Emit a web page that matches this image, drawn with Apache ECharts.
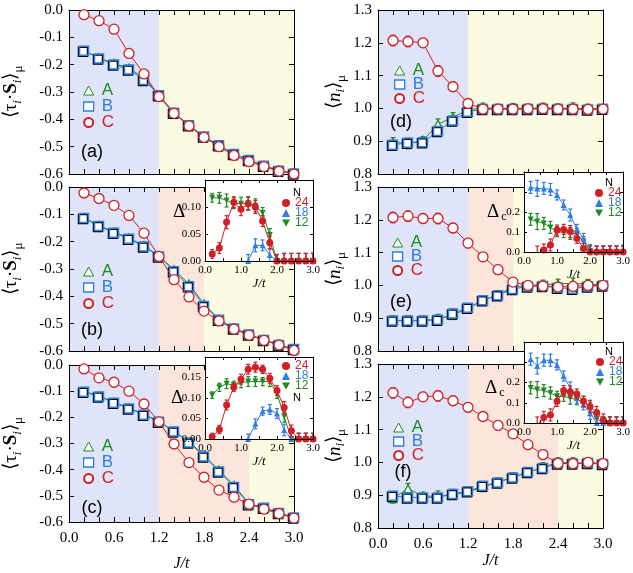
<!DOCTYPE html>
<html>
<head>
<meta charset="utf-8">
<script src="https://cdn.jsdelivr.net/npm/echarts@6/dist/echarts.min.js"></script>
<style>
  html, body { margin: 0; background: #fff; }
  #chart { width: 633px; height: 573px; }
</style>
</head>
<body>
<div id="chart"></div>
<script>
// J/t values shared by every panel and inset
var xs = [0.2, 0.4, 0.6, 0.8, 1.0, 1.2, 1.4, 1.6, 1.8, 2.0, 2.2, 2.4, 2.6, 2.8, 3.0];

// (a) <tau.S>
var aA = [-0.148, -0.175, -0.196, -0.213, -0.249, -0.311, -0.376, -0.421, -0.462, -0.495, -0.526, -0.548, -0.569, -0.587, -0.597];
var aB = [-0.149, -0.177, -0.199, -0.218, -0.256, -0.312, -0.376, -0.422, -0.463, -0.495, -0.527, -0.549, -0.570, -0.588, -0.598];
var aC = [-0.017, -0.039, -0.070, -0.159, -0.234, -0.317, -0.378, -0.424, -0.466, -0.500, -0.532, -0.555, -0.573, -0.590, -0.600];
// (b)
var bA = [-0.112, -0.141, -0.165, -0.186, -0.215, -0.252, -0.303, -0.355, -0.428, -0.484, -0.517, -0.539, -0.559, -0.577, -0.592];
var bB = [-0.113, -0.143, -0.167, -0.189, -0.218, -0.254, -0.308, -0.363, -0.435, -0.486, -0.518, -0.540, -0.560, -0.578, -0.593];
var bC = [-0.022, -0.042, -0.067, -0.104, -0.169, -0.254, -0.339, -0.402, -0.454, -0.490, -0.520, -0.542, -0.561, -0.578, -0.598];
// (c)
var cA = [-0.101, -0.118, -0.142, -0.164, -0.188, -0.216, -0.252, -0.294, -0.345, -0.402, -0.460, -0.530, -0.545, -0.565, -0.582];
var cB = [-0.102, -0.120, -0.144, -0.166, -0.190, -0.217, -0.254, -0.296, -0.350, -0.407, -0.466, -0.532, -0.546, -0.566, -0.583];
var cC = [-0.015, -0.049, -0.066, -0.100, -0.149, -0.217, -0.302, -0.373, -0.429, -0.478, -0.505, -0.532, -0.551, -0.568, -0.585];

// (d) <n>
var dA = [0.897, 0.893, 0.902, 0.952, 0.973, 0.995, 1.002, 1.000, 1.001, 1.000, 1.002, 1.000, 1.001, 0.999, 1.000];
var dB = [0.889, 0.895, 0.897, 0.931, 0.963, 0.990, 0.998, 0.998, 0.998, 0.998, 0.999, 0.998, 0.998, 0.997, 0.999];
var dC = [1.207, 1.204, 1.200, 1.114, 1.066, 1.015, 0.998, 0.998, 0.998, 0.999, 0.999, 0.998, 0.998, 0.997, 0.998];
// (e)
var eA = [0.893, 0.891, 0.894, 0.896, 0.910, 0.930, 0.954, 0.972, 0.995, 1.000, 1.002, 1.005, 1.006, 1.004, 1.002];
var eB = [0.893, 0.893, 0.893, 0.895, 0.914, 0.932, 0.955, 0.970, 0.989, 0.997, 0.998, 0.993, 0.990, 0.997, 1.000];
var eC = [1.207, 1.211, 1.204, 1.204, 1.175, 1.129, 1.087, 1.048, 1.010, 1.000, 0.998, 0.995, 0.997, 1.000, 1.000];
// (f)
var fA = [0.890, 0.920, 0.897, 0.897, 0.902, 0.910, 0.925, 0.940, 0.955, 0.970, 0.985, 1.000, 0.998, 0.995, 0.998];
var fB = [0.898, 0.893, 0.893, 0.893, 0.904, 0.912, 0.929, 0.939, 0.954, 0.971, 0.983, 0.997, 0.997, 0.998, 0.995];
var fC = [1.212, 1.183, 1.200, 1.203, 1.188, 1.168, 1.140, 1.113, 1.087, 1.054, 1.024, 0.997, 0.996, 1.000, 0.996];
// error bars of <n>
var nErrA = [0.014, 0.016, 0.012, 0.016, 0.014, 0.012, 0.014, 0.012, 0.014, 0.012, 0.014, 0.014, 0.016, 0.014, 0.012];
var nErrB = [0.012, 0.014, 0.012, 0.012, 0.014, 0.012, 0.012, 0.014, 0.012, 0.012, 0.012, 0.014, 0.012, 0.012, 0.012];
var nErrC = [0.016, 0.016, 0.014, 0.016, 0.014, 0.014, 0.012, 0.014, 0.012, 0.012, 0.014, 0.012, 0.014, 0.014, 0.012];

// phase boundaries (J/t) of the shaded bands
var bandsA = [0, 1.2, 3.0];
var bandsB = [0, 1.2, 1.8, 3.0];
var bandsC = [0, 1.2, 2.4, 3.0];

// insets: gap vs J/t for N = 24, 18, 12
var ib24 = [0.013, 0.024, 0.072, 0.109, 0.096, 0.106, 0.100, 0.074, 0.034, 0, 0, 0, 0, 0, 0];
var ib18 = [null, null, null, null, null, 0, 0.029, 0.029, 0.011, 0, 0, 0, 0, 0, 0];
var ib12 = [0.117, 0.117, 0.112, 0.107, 0.106, 0.107, 0.103, 0.089, 0.048, 0, 0, 0, 0, 0, 0];
var ic24 = [0.006, 0.023, 0.083, 0.126, 0.146, 0.170, 0.175, 0.170, 0.148, 0.118, 0.077, 0.020, 0, 0, 0];
var ic18 = [null, null, null, null, null, 0, 0.037, 0.068, 0.072, 0.062, 0.022, 0, 0, 0, 0];
var ic12 = [0.107, 0.126, 0.135, 0.131, 0.137, 0.140, 0.140, 0.140, 0.140, 0.111, 0.055, 0, 0, 0, 0];
var ie24 = [null, -0.01, 0.010, 0.035, 0.110, 0.113, 0.102, 0.068, 0.018, 0, 0, 0, 0, 0, 0];
var ie18 = [0.323, 0.318, 0.318, 0.313, 0.285, 0.235, 0.185, 0.113, 0.068, 0.005, 0, 0, 0, 0, 0.005];
var ie12 = [0.163, 0.152, 0.143, 0.123, 0.102, 0.097, 0.093, 0.093, 0.052, 0.005, 0, 0, 0, 0, 0];
var if24 = [null, -0.01, 0.027, 0.040, 0.107, 0.160, 0.153, 0.143, 0.107, 0.082, 0.052, 0.015, 0, 0, 0];
var if18 = [0.315, 0.282, 0.310, 0.310, 0.287, 0.232, 0.173, 0.123, 0.090, 0.048, 0, 0, 0, 0, 0];
var if12 = [0.173, 0.165, 0.160, 0.148, 0.132, 0.132, 0.123, 0.115, 0.107, 0.073, 0.020, 0, 0, 0, 0];
var gErrSmall = [0.008, 0.01, 0.012, 0.01, 0.012, 0.012, 0.012, 0.01, 0.012, 0.012, 0.014, 0.014, 0.014, 0.014, 0.014];
var gErrLarge = [0.03, 0.04, 0.03, 0.03, 0.025, 0.025, 0.03, 0.025, 0.025, 0.03, 0.03, 0.03, 0.03, 0.03, 0.03];

var RED = '#d21f26', BLUE = '#2e7de1', GREEN = '#1f8a22';
var BAND = ['#dfe4f8', '#fce6dc', '#fcfae1'];
var SERIF = 'Liberation Serif', SANS = 'Liberation Sans';
var DOWN = 'path://M0,0L10,0L5,9Z';

var mainBoxes = [[69, 10], [69, 187], [69, 365], [378, 10], [378, 187], [378, 364]];
var insetBoxes = [[205, 180, 108, 81], [205, 357, 108, 82], [524, 172, 106, 80], [524, 342, 106, 81]];

var grid = [], xAxis = [], yAxis = [], series = [], legend = [];

function near(v, step) { return Math.abs(v / step - Math.round(v / step)) < 1e-6; }

function pts(ys) {
  var out = [];
  xs.forEach(function (x, i) { if (ys[i] !== null) out.push([x, ys[i]]); });
  return out;
}

function addAxes(g, xo, yo) {
  var base = { gridIndex: g, type: 'value', splitLine: { show: false }, z: xo.z,
    axisLine: { show: true, onZero: false, lineStyle: { color: '#000', width: 1 } },
    axisTick: { show: true, inside: true, length: xo.tick, lineStyle: { color: '#000' } } };
  xAxis.push(Object.assign({}, base, xo.axis, { position: 'bottom', axisLabel: xo.label, name: xo.name || '',
    nameLocation: 'middle', nameGap: xo.nameGap, nameTextStyle: xo.nameStyle }));
  xAxis.push(Object.assign({}, base, xo.axis, { position: 'top', axisLabel: { show: false } }));
  yAxis.push(Object.assign({}, base, yo.axis, { position: 'left', axisLabel: yo.label, name: yo.name || '',
    nameLocation: 'middle', nameGap: yo.nameGap, nameRotate: 90, nameTextStyle: yo.nameStyle }));
  yAxis.push(Object.assign({}, base, yo.axis, { position: 'right', axisLabel: { show: false } }));
}

function lineSer(g, name, ys, symbol, size, color, filled, z, extra) {
  var s = {
    type: 'line', name: name, xAxisIndex: 2 * g, yAxisIndex: 2 * g, data: pts(ys), z: z,
    symbol: symbol, symbolSize: size, showAllSymbol: true, clip: true, silent: true,
    lineStyle: { color: color, width: 1 },
    itemStyle: { color: filled ? color : '#fff', borderColor: color, borderWidth: filled ? 0 : 1.3 }
  };
  return Object.assign(s, extra || {});
}

function errSer(g, ys, es, color, z, cap) {
  var data = [];
  xs.forEach(function (x, i) { if (ys[i] !== null) data.push([x, ys[i], es[i]]); });
  return {
    type: 'custom', xAxisIndex: 2 * g, yAxisIndex: 2 * g, data: data, z: z, clip: true, silent: true,
    encode: { x: 0, y: 1 },
    renderItem: function (params, api) {
      var x = api.value(0), y = api.value(1), e = api.value(2);
      var lo = api.coord([x, y - e]), hi = api.coord([x, y + e]);
      var st = { stroke: color, lineWidth: 1.2 };
      return { type: 'group', children: [
        { type: 'line', shape: { x1: lo[0], y1: lo[1], x2: hi[0], y2: hi[1] }, style: st },
        { type: 'line', shape: { x1: hi[0] - cap, y1: hi[1], x2: hi[0] + cap, y2: hi[1] }, style: st },
        { type: 'line', shape: { x1: lo[0] - cap, y1: lo[1], x2: lo[0] + cap, y2: lo[1] }, style: st }
      ] };
    }
  };
}

function bandSer(g, edges) {
  var data = [];
  for (var i = 0; i < edges.length - 1; i++) {
    data.push([edges[i], edges[i + 1], edges.length === 3 && i === 1 ? 2 : i]);
  }
  return {
    type: 'custom', xAxisIndex: 2 * g, yAxisIndex: 2 * g, data: data, z: 1, silent: true,
    encode: { x: [0, 1] },
    renderItem: function (params, api) {
      var cs = params.coordSys;
      var x0 = api.coord([api.value(0), 0])[0], x1 = api.coord([api.value(1), 0])[0];
      return { type: 'rect', shape: { x: x0, y: cs.y, width: x1 - x0, height: cs.height },
        style: { fill: BAND[api.value(2)] } };
    }
  };
}

// ---- main panels ----
var tauName = '⟨τ{s|i}·{b|S}{s|i}⟩{m|μ}';
var nName = '⟨{n|n}{s|i}⟩{m|μ}';
var nameStyle = { fontFamily: SERIF, fontSize: 19, color: '#000',
  rich: { s: { fontFamily: SERIF, fontSize: 13, fontStyle: 'italic', padding: [12, 0, 0, 0] },
          m: { fontFamily: SERIF, fontSize: 13, padding: [14, 0, 0, 0] },
          b: { fontFamily: SERIF, fontSize: 19, fontWeight: 'bold' },
          n: { fontFamily: SERIF, fontSize: 19, fontStyle: 'italic' } } };
var panels = [
  [aA, aB, aC, bandsA, -0.6, 0, tauName, null],
  [bA, bB, bC, bandsB, -0.6, 0, tauName, null],
  [cA, cB, cC, bandsC, -0.6, 0, tauName, null],
  [dA, dB, dC, bandsA, 0.8, 1.3, nName, true],
  [eA, eB, eC, bandsB, 0.8, 1.3, nName, true],
  [fA, fB, fC, bandsC, 0.8, 1.3, nName, true]
];
var legendPos = [[83, 82], [83, 263], [83, 438], [394, 62], [392, 234], [393, 419]];

panels.forEach(function (p, g) {
  grid.push({ left: mainBoxes[g][0], top: mainBoxes[g][1], width: 225, height: 164 });
  var bottom = (g === 2 || g === 5);
  addAxes(g, {
    z: 4, tick: 5,
    axis: { min: 0, max: 3, interval: 0.2 },
    label: { show: bottom, fontFamily: SERIF, fontSize: 15, color: '#000', margin: 9,
      showMinLabel: true, showMaxLabel: true,
      formatter: function (v) { return near(v, 0.6) ? v.toFixed(1) : ''; } },
    name: bottom ? 'J/t' : '', nameGap: g === 2 ? 34 : 24,
    nameStyle: { fontFamily: SERIF, fontSize: 16, fontStyle: 'italic', color: '#000' }
  }, {
    tick: 5,
    axis: { min: p[4], max: p[5], interval: 0.1 },
    label: { fontFamily: SERIF, fontSize: 15, color: '#000', margin: 6, showMinLabel: true, showMaxLabel: true,
      formatter: function (v) { return v.toFixed(1); } },
    name: p[6], nameGap: p[7] ? 30 : 44, nameStyle: nameStyle
  });
  series.push(bandSer(g, p[3]));
  if (p[7]) {
    series.push(errSer(g, p[0], nErrA, GREEN, 3, 2.5));
    series.push(errSer(g, p[1], nErrB, BLUE, 4, 2.5));
    series.push(errSer(g, p[2], nErrC, RED, 5, 2.5));
  }
  series.push(lineSer(g, 'A', p[0], 'triangle', 8, GREEN, false, 3));
  series.push(lineSer(g, 'B', p[1], 'rect', 9, BLUE, false, 4, {
    itemStyle: { color: '#fff', borderColor: BLUE, borderWidth: 1.5,
      shadowColor: '#000', shadowBlur: 0, shadowOffsetX: -1, shadowOffsetY: 1 } }));
  series.push(lineSer(g, 'C', p[2], 'circle', 10, RED, false, 5));
  legend.push({
    left: legendPos[g][0], top: legendPos[g][1], orient: 'vertical', selectedMode: false,
    itemWidth: 10, itemHeight: 9, itemGap: p[7] ? -3 : -1, padding: 0, z: 6,
    textStyle: { fontFamily: SANS, fontSize: 17, padding: [0, 0, 0, 3] },
    data: [
      { name: 'A', icon: 'triangle', itemStyle: { borderWidth: 1 }, textStyle: { color: GREEN } },
      { name: 'B', icon: 'rect', itemStyle: { borderWidth: 1.3, shadowColor: 'transparent' }, textStyle: { color: BLUE } },
      { name: 'C', icon: 'circle', textStyle: { color: RED } }
    ]
  });
});

// ---- insets ----
var insets = [
  [ib24, ib18, ib12, 0.15, 0.05, 2, gErrSmall, 16],
  [ic24, ic18, ic12, 0.2, 0.05, 2, gErrSmall, 14],
  [ie24, ie18, ie12, 0.4, 0.1, 1, gErrLarge, 14],
  [if24, if18, if12, 0.4, 0.1, 1, gErrLarge, 16]
];
var insetLegend = [[282, 197], [282, 360], [595, 187], [596, 356]];

insets.forEach(function (q, k) {
  var g = 6 + k, b = insetBoxes[k];
  grid.push({ left: b[0], top: b[1], width: b[2], height: b[3], show: true, backgroundColor: '#fff',
    borderWidth: 0, z: 10 });
  addAxes(g, {
    z: 15, tick: 3,
    axis: { min: 0, max: 3, interval: 0.5 },
    label: { fontFamily: SERIF, fontSize: 11, color: '#000', margin: 4, showMinLabel: true, showMaxLabel: true,
      formatter: function (v) { return near(v, 1) ? v.toFixed(1) : ''; } },
    name: 'J/t', nameGap: q[7],
    nameStyle: { fontFamily: SERIF, fontSize: 13, fontStyle: 'italic', color: '#000' }
  }, {
    tick: 3,
    axis: { min: 0, max: q[3], interval: q[4] },
    label: { fontFamily: SERIF, fontSize: 11, color: '#000', margin: 4, showMinLabel: true, showMaxLabel: true,
      formatter: function (v) {
        var limit = q[4] === 0.1 ? 0.2 : q[3] - q[4];
        return v <= limit + 1e-6 ? v.toFixed(q[5]) : '';
      } }
  });
  series.push(errSer(g, q[2], q[6], GREEN, 11, 2));
  series.push(errSer(g, q[1], q[6], BLUE, 12, 2));
  series.push(errSer(g, q[0], q[6], RED, 13, 2));
  series.push(lineSer(g, '12', q[2], DOWN, 6, GREEN, true, 11));
  series.push(lineSer(g, '18', q[1], 'triangle', 6, BLUE, true, 12));
  series.push(lineSer(g, '24', q[0], 'circle', 7, RED, true, 13));
  legend.push({
    left: insetLegend[k][0], top: insetLegend[k][1], orient: 'vertical', selectedMode: false,
    itemWidth: 8, itemHeight: 8, itemGap: -2, padding: 0, z: 20,
    textStyle: { fontFamily: SANS, fontSize: 12 },
    data: [
      { name: '24', icon: 'circle', textStyle: { color: RED } },
      { name: '18', icon: 'triangle', textStyle: { color: BLUE } },
      { name: '12', icon: DOWN, textStyle: { color: GREEN } }
    ]
  });
});

// panel letters and inset labels
function txt(x, y, s, style) {
  return { type: 'text', x: x, y: y, z: 20,
    style: Object.assign({ text: s, fill: '#000', align: 'center', verticalAlign: 'middle' }, style) };
}
var letterStyle = { font: '18px "Liberation Sans"' };
var graphic = [
  txt(92, 152, '(a)', letterStyle), txt(92, 330, '(b)', letterStyle), txt(92, 508, '(c)', letterStyle),
  txt(401, 122, '(d)', letterStyle), txt(401, 302, '(e)', letterStyle), txt(403, 472, '(f)', letterStyle),
  txt(297, 193, 'N', { font: '11px "Liberation Sans"' }), txt(297, 398, 'N', { font: '11px "Liberation Sans"' }),
  txt(609, 183, 'N', { font: '11px "Liberation Sans"' }), txt(609, 352, 'N', { font: '11px "Liberation Sans"' }),
  txt(179, 212, 'Δ', { font: '19px "Liberation Serif"' }),
  txt(177, 398, 'Δ', { font: '19px "Liberation Serif"' }),
  txt(493, 212, 'Δ', { font: '19px "Liberation Serif"' }), txt(504, 217, 'c', { font: '12px "Liberation Serif"' }),
  txt(491, 388, 'Δ', { font: '19px "Liberation Serif"' }), txt(502, 393, 'c', { font: '12px "Liberation Serif"' })
];

var chart = echarts.init(document.getElementById('chart'), null, { renderer: 'canvas' });
chart.setOption({
  animation: false,
  backgroundColor: '#fff',
  grid: grid, xAxis: xAxis, yAxis: yAxis, series: series, legend: legend, graphic: graphic
});
</script>
</body>
</html>
